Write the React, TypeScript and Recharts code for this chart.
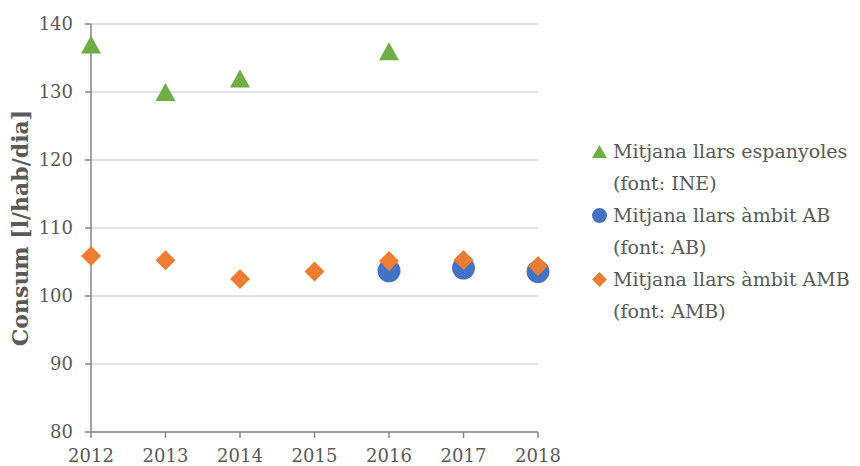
import { ScatterChart, Scatter, XAxis, YAxis, CartesianGrid } from "recharts";

// ─── Data ────────────────────────────────────────────────────────────────────

const years = [2012, 2013, 2014, 2015, 2016, 2017, 2018];
const ineValues = [137, 130, 132, null, 136, null, null];
const abValues = [null, null, null, null, 103.7, 104.1, 103.6];
const ambValues = [105.9, 105.25, 102.5, 103.6, 105.15, 105.3, 104.4];
const yTicks = [80, 90, 100, 110, 120, 130, 140];

const seriesNames = [
  "Mitjana llars espanyoles",
  "Mitjana llars àmbit AB",
  "Mitjana llars àmbit AMB",
];
const seriesSources = ["(font: INE)", "(font: AB)", "(font: AMB)"];
const yLabel = "Consum [l/hab/dia]";

// ─── Style ───────────────────────────────────────────────────────────────────

const GREEN = "#70ad47";
const BLUE = "#4472c4";
const ORANGE = "#ed7d31";
const AXIS = "#868686";
const GRID = "#d9d9d9";
const TEXT = "#595959";
const FONT = "'DejaVu Serif', 'Liberation Serif', serif";

const tickStyle = { fill: TEXT, fontSize: 18, fontFamily: FONT };

const toPoints = (values: (number | null)[]) =>
  years
    .map((year, i) => ({ year, value: values[i] }))
    .filter((d) => d.value !== null);

// ─── Marker shapes ───────────────────────────────────────────────────────────

const Triangle = ({ cx, cy, fill }: any) => (
  <polygon
    points={`${cx},${cy - 9} ${cx + 10},${cy + 9} ${cx - 10},${cy + 9}`}
    fill={fill}
  />
);

const Circle = ({ cx, cy, fill }: any) => <circle cx={cx} cy={cy} r={11.5} fill={fill} />;

const Diamond = ({ cx, cy, fill }: any) => (
  <polygon
    points={`${cx},${cy - 10} ${cx + 10},${cy} ${cx},${cy + 10} ${cx - 10},${cy}`}
    fill={fill}
  />
);

const markers = [
  <svg width="15" height="15" key="t">
    <polygon points="7.5,1 15,14 0,14" fill={GREEN} />
  </svg>,
  <svg width="15" height="15" key="c">
    <circle cx="7.5" cy="7.5" r="7.5" fill={BLUE} />
  </svg>,
  <svg width="15" height="15" key="d">
    <polygon points="7.5,0 15,7.5 7.5,15 0,7.5" fill={ORANGE} />
  </svg>,
];

const renderYLabel = ({ viewBox }: any) => {
  const x = viewBox.x - 11;
  const y = viewBox.y + viewBox.height / 2;
  return (
    <text
      x={x}
      y={y}
      transform={`rotate(-90, ${x}, ${y})`}
      textAnchor="middle"
      dominantBaseline="central"
      fill={TEXT}
      fontSize={22}
      fontWeight="bold"
      fontFamily={FONT}
    >
      {yLabel}
    </text>
  );
};

// ─── App ─────────────────────────────────────────────────────────────────────

export default function App() {
  return (
    <div style={{ position: "absolute", left: 0, top: 0, width: 860, height: 466, background: "#fff" }}>
      <ScatterChart width={860} height={466} margin={{ top: 24, right: 322, bottom: 4, left: 31 }}>
        <CartesianGrid horizontal vertical={false} stroke={GRID} strokeWidth={1.5} />
        <XAxis
          type="number"
          dataKey="year"
          domain={[2012, 2018]}
          ticks={years}
          interval={0}
          height={30}
          tickSize={6}
          tickMargin={11}
          stroke={AXIS}
          strokeWidth={1.5}
          tick={tickStyle}
        />
        <YAxis
          type="number"
          dataKey="value"
          domain={[80, 140]}
          ticks={yTicks}
          interval={0}
          width={60}
          tickSize={6}
          tickMargin={12}
          stroke={AXIS}
          strokeWidth={1.5}
          tick={tickStyle}
          label={{ content: renderYLabel }}
        />
        <Scatter data={toPoints(ineValues)} fill={GREEN} shape={Triangle} isAnimationActive={false} />
        <Scatter data={toPoints(abValues)} fill={BLUE} shape={Circle} isAnimationActive={false} />
        <Scatter data={toPoints(ambValues)} fill={ORANGE} shape={Diamond} isAnimationActive={false} />
      </ScatterChart>
      <div
        style={{
          position: "absolute",
          left: 592,
          top: 135,
          fontFamily: FONT,
          fontSize: 19,
          color: TEXT,
          lineHeight: "32px",
        }}
      >
        {seriesNames.map((name, i) => (
          <div key={name} style={{ display: "flex", alignItems: "flex-start" }}>
            <div style={{ width: 21, height: 32, display: "flex", alignItems: "center" }}>{markers[i]}</div>
            <div>
              <div style={{ whiteSpace: "nowrap" }}>{name}</div>
              <div style={{ whiteSpace: "nowrap" }}>{seriesSources[i]}</div>
            </div>
          </div>
        ))}
      </div>
    </div>
  );
}
